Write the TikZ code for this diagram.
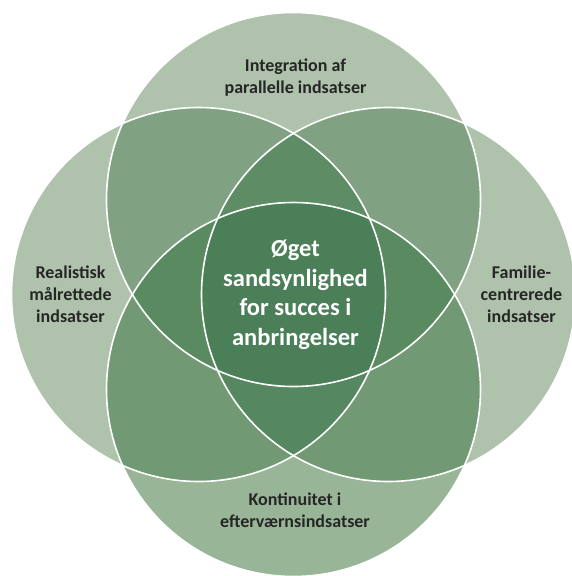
\documentclass[tikz,border=0pt]{standalone}
\usepackage{fontspec}
\setmainfont{Carlito}
\definecolor{cOneA}{HTML}{AFC3AC}
\definecolor{cOneB}{HTML}{99B597}
\definecolor{cTwoA}{HTML}{80A283}
\definecolor{cTwoB}{HTML}{719A74}
\definecolor{cThrT}{HTML}{5E8D65}
\definecolor{cThrS}{HTML}{5A8A60}
\definecolor{cThrB}{HTML}{558760}
\definecolor{cFour}{HTML}{4A7F58}
\definecolor{txt}{HTML}{262626}
\begin{document}
\begin{tikzpicture}[x=1pt,y=-1pt,
  outlab/.style={align=center,text=txt,font=\bfseries\fontsize{18}{22}\selectfont,inner sep=0pt},
  midlab/.style={align=center,text=white,font=\bfseries\fontsize{24.5}{29.5}\selectfont,inner sep=0pt},
  ring/.style={draw=white,line width=1.6pt}]
\useasboundingbox (0,0) rectangle (571,576);
\def\rad{187pt}
\coordinate (cT) at (293.5,199.5);
\coordinate (cB) at (293.5,389.5);
\coordinate (cL) at (198.5,294.5);
\coordinate (cR) at (388.5,294.5);
% single
\fill[cOneA] (cT) circle[radius=\rad];
\fill[cOneA] (cL) circle[radius=\rad];
\fill[cOneA] (cR) circle[radius=\rad];
\fill[cOneB] (cB) circle[radius=\rad];
% pairs
\begin{scope}\clip (cT) circle[radius=\rad]; \fill[cTwoA] (cL) circle[radius=\rad]; \fill[cTwoA] (cR) circle[radius=\rad];\end{scope}
\begin{scope}\clip (cB) circle[radius=\rad]; \fill[cTwoB] (cL) circle[radius=\rad]; \fill[cTwoB] (cR) circle[radius=\rad];\end{scope}
% triples
\begin{scope}\clip (cT) circle[radius=\rad]; \clip (cL) circle[radius=\rad]; \fill[cThrT] (cR) circle[radius=\rad];\end{scope}
\begin{scope}\clip (cT) circle[radius=\rad]; \clip (cB) circle[radius=\rad]; \fill[cThrS] (cL) circle[radius=\rad]; \fill[cThrS] (cR) circle[radius=\rad];\end{scope}
\begin{scope}\clip (cB) circle[radius=\rad]; \clip (cL) circle[radius=\rad]; \fill[cThrB] (cR) circle[radius=\rad];\end{scope}
% quad
\begin{scope}\clip (cT) circle[radius=\rad]; \clip (cB) circle[radius=\rad]; \clip (cL) circle[radius=\rad]; \fill[cFour] (cR) circle[radius=\rad];\end{scope}
% outlines
\draw[ring] (cT) circle[radius=\rad];
\draw[ring] (cB) circle[radius=\rad];
\draw[ring] (cL) circle[radius=\rad];
\draw[ring] (cR) circle[radius=\rad];
% labels
\node[outlab] (ltop) at (295.5,78) {Integration af\\parallelle indsatser};
\node[outlab] (lleft) at (70.5,294) {Realistisk\\målrettede\\indsatser};
\node[outlab] (lright) at (521.5,294) {Familie-\\centrerede\\indsatser};
\node[outlab] (lbot) at (295,510) {Kontinuitet i\\efterværnsindsatser};
\node[midlab] (lmid) at (295.5,295) {Øget\\sandsynlighed\\for succes i\\anbringelser};
\end{tikzpicture}
\end{document}
